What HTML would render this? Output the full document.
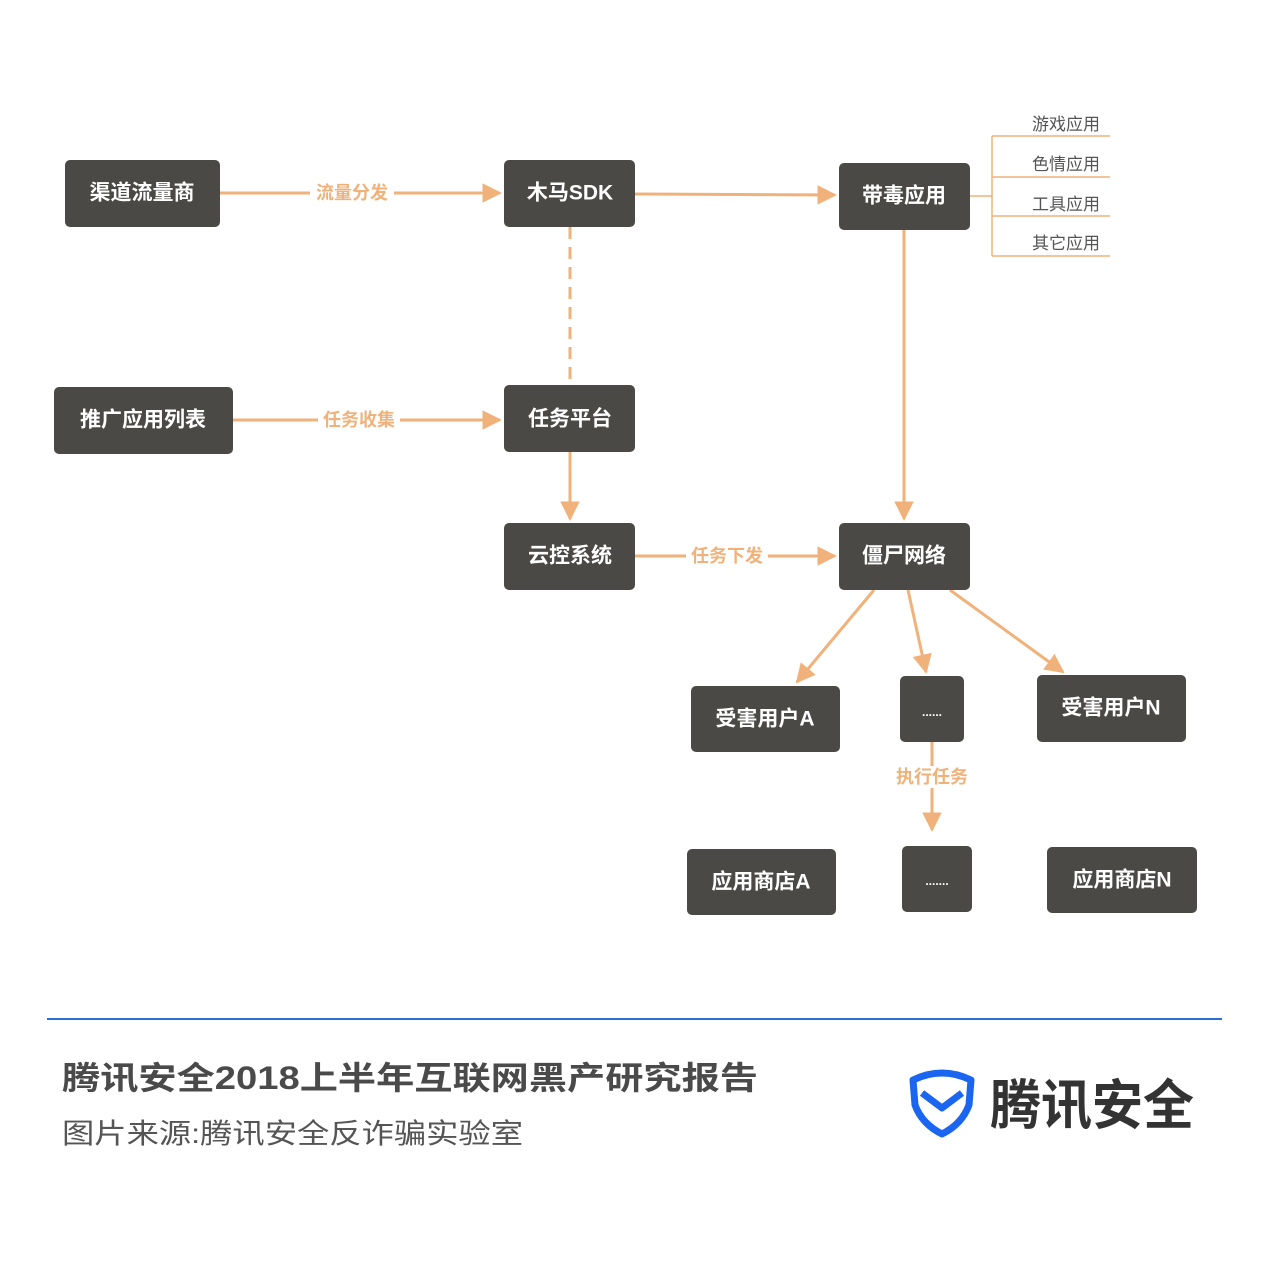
<!DOCTYPE html>
<html><head><meta charset="utf-8"><style>
html,body{margin:0;padding:0;background:#fff;}
svg{display:block}
.b{fill:#4a4945}
.t{fill:#fff;font-family:"Liberation Sans","Noto Sans CJK SC",sans-serif;font-weight:bold;font-size:21px;text-anchor:middle;dominant-baseline:central}
.l{fill:#f0b27a;font-family:"Liberation Sans","Noto Sans CJK SC",sans-serif;font-weight:bold;font-size:18px;text-anchor:middle;dominant-baseline:central}
.s{fill:#555;font-family:"Liberation Sans","Noto Sans CJK SC",sans-serif;font-size:17px;text-anchor:end}
.o{stroke:#f0b27a;stroke-width:3;fill:none}
.th{stroke:#f0b27a;stroke-width:1.5;fill:none}
</style></head><body>
<svg width="1269" height="1264" viewBox="0 0 1269 1264" xmlns="http://www.w3.org/2000/svg">
<defs><marker id="a" viewBox="0 0 10 10" refX="9" refY="5" markerWidth="6.5" markerHeight="6.5" orient="auto" markerUnits="strokeWidth"><path d="M0,0L10,5L0,10z" fill="#f0b27a"/></marker></defs>
<line class="o" x1="220" y1="193" x2="500" y2="193" marker-end="url(#a)"/>
<line class="o" x1="635" y1="194" x2="835" y2="195" marker-end="url(#a)"/>
<line class="o" x1="570" y1="227" x2="570" y2="385" stroke-dasharray="12,8"/>
<line class="o" x1="233" y1="420" x2="500" y2="420" marker-end="url(#a)"/>
<line class="o" x1="570" y1="452" x2="570" y2="519" marker-end="url(#a)"/>
<line class="o" x1="635" y1="556" x2="835" y2="556" marker-end="url(#a)"/>
<line class="o" x1="904" y1="230" x2="904" y2="519" marker-end="url(#a)"/>
<line class="o" x1="874" y1="590" x2="797" y2="682" marker-end="url(#a)"/>
<line class="o" x1="908" y1="590" x2="926" y2="672" marker-end="url(#a)"/>
<line class="o" x1="950" y1="590" x2="1063" y2="672" marker-end="url(#a)"/>
<line class="o" x1="932" y1="742" x2="932" y2="830" marker-end="url(#a)"/>
<rect x="310" y="182" width="84" height="22" fill="#fff"/><text class="l" x="352" y="193">流量分发</text>
<rect x="318" y="409" width="82" height="22" fill="#fff"/><text class="l" x="359" y="420">任务收集</text>
<rect x="686" y="545" width="82" height="22" fill="#fff"/><text class="l" x="727" y="556">任务下发</text>
<rect x="890" y="766" width="84" height="22" fill="#fff"/><text class="l" x="932" y="777">执行任务</text>
<line class="th" x1="970" y1="196" x2="992" y2="196"/>
<line class="th" x1="992" y1="136" x2="992" y2="256"/>
<line class="th" x1="992" y1="136" x2="1110" y2="136"/>
<line class="th" x1="992" y1="177" x2="1110" y2="177"/>
<line class="th" x1="992" y1="216" x2="1110" y2="216"/>
<line class="th" x1="992" y1="256" x2="1110" y2="256"/>
<text class="s" x="1100" y="130">游戏应用</text>
<text class="s" x="1100" y="170">色情应用</text>
<text class="s" x="1100" y="210">工具应用</text>
<text class="s" x="1100" y="249">其它应用</text>
<rect class="b" x="65" y="160" width="155" height="67" rx="5"/><text class="t" x="142" y="193">渠道流量商</text>
<rect class="b" x="504" y="160" width="131" height="67" rx="5"/><text class="t" x="570" y="193">木马SDK</text>
<rect class="b" x="839" y="163" width="131" height="67" rx="5"/><text class="t" x="904" y="196">带毒应用</text>
<rect class="b" x="54" y="387" width="179" height="67" rx="5"/><text class="t" x="143" y="420">推广应用列表</text>
<rect class="b" x="504" y="385" width="131" height="67" rx="5"/><text class="t" x="570" y="419">任务平台</text>
<rect class="b" x="504" y="523" width="131" height="67" rx="5"/><text class="t" x="570" y="556">云控系统</text>
<rect class="b" x="839" y="523" width="131" height="67" rx="5"/><text class="t" x="904" y="556">僵尸网络</text>
<rect class="b" x="691" y="686" width="149" height="66" rx="5"/><text class="t" x="765" y="719">受害用户A</text>
<rect class="b" x="900" y="676" width="64" height="66" rx="5"/><text class="t" x="932" y="712" style="font-size:12px">......</text>
<rect class="b" x="1037" y="675" width="149" height="67" rx="5"/><text class="t" x="1111" y="708">受害用户N</text>
<rect class="b" x="687" y="849" width="149" height="66" rx="5"/><text class="t" x="761" y="882">应用商店A</text>
<rect class="b" x="902" y="846" width="70" height="66" rx="5"/><text class="t" x="937" y="881" style="font-size:12px">.......</text>
<rect class="b" x="1047" y="847" width="150" height="66" rx="5"/><text class="t" x="1122" y="880">应用商店N</text>
<line x1="47" y1="1019" x2="1222" y2="1019" stroke="#2a6fd6" stroke-width="2"/>
<text x="62" y="1089" font-family="Liberation Sans,Noto Sans CJK SC,sans-serif" font-weight="bold" font-size="32" fill="#4a4a4a" textLength="696" lengthAdjust="spacingAndGlyphs">腾讯安全2018上半年互联网黑产研究报告</text>
<text x="62" y="1143" font-family="Liberation Sans,Noto Sans CJK SC,sans-serif" font-size="28" fill="#555" textLength="461" lengthAdjust="spacingAndGlyphs">图片来源:腾讯安全反诈骗实验室</text>
<path d="M913,1080 Q942,1066 971,1080 L969,1105 Q962,1124 942,1134 Q922,1124 915,1105 Z" fill="none" stroke="#1a66f0" stroke-width="7" stroke-linejoin="round"/>
<path d="M922,1093 L942,1108 L962,1093" fill="none" stroke="#1a66f0" stroke-width="7" stroke-linejoin="round"/>
<text x="990" y="1124" font-family="Liberation Sans,Noto Sans CJK SC,sans-serif" font-weight="bold" font-size="54" fill="#333" textLength="204" lengthAdjust="spacingAndGlyphs">腾讯安全</text>
</svg>
</body></html>
